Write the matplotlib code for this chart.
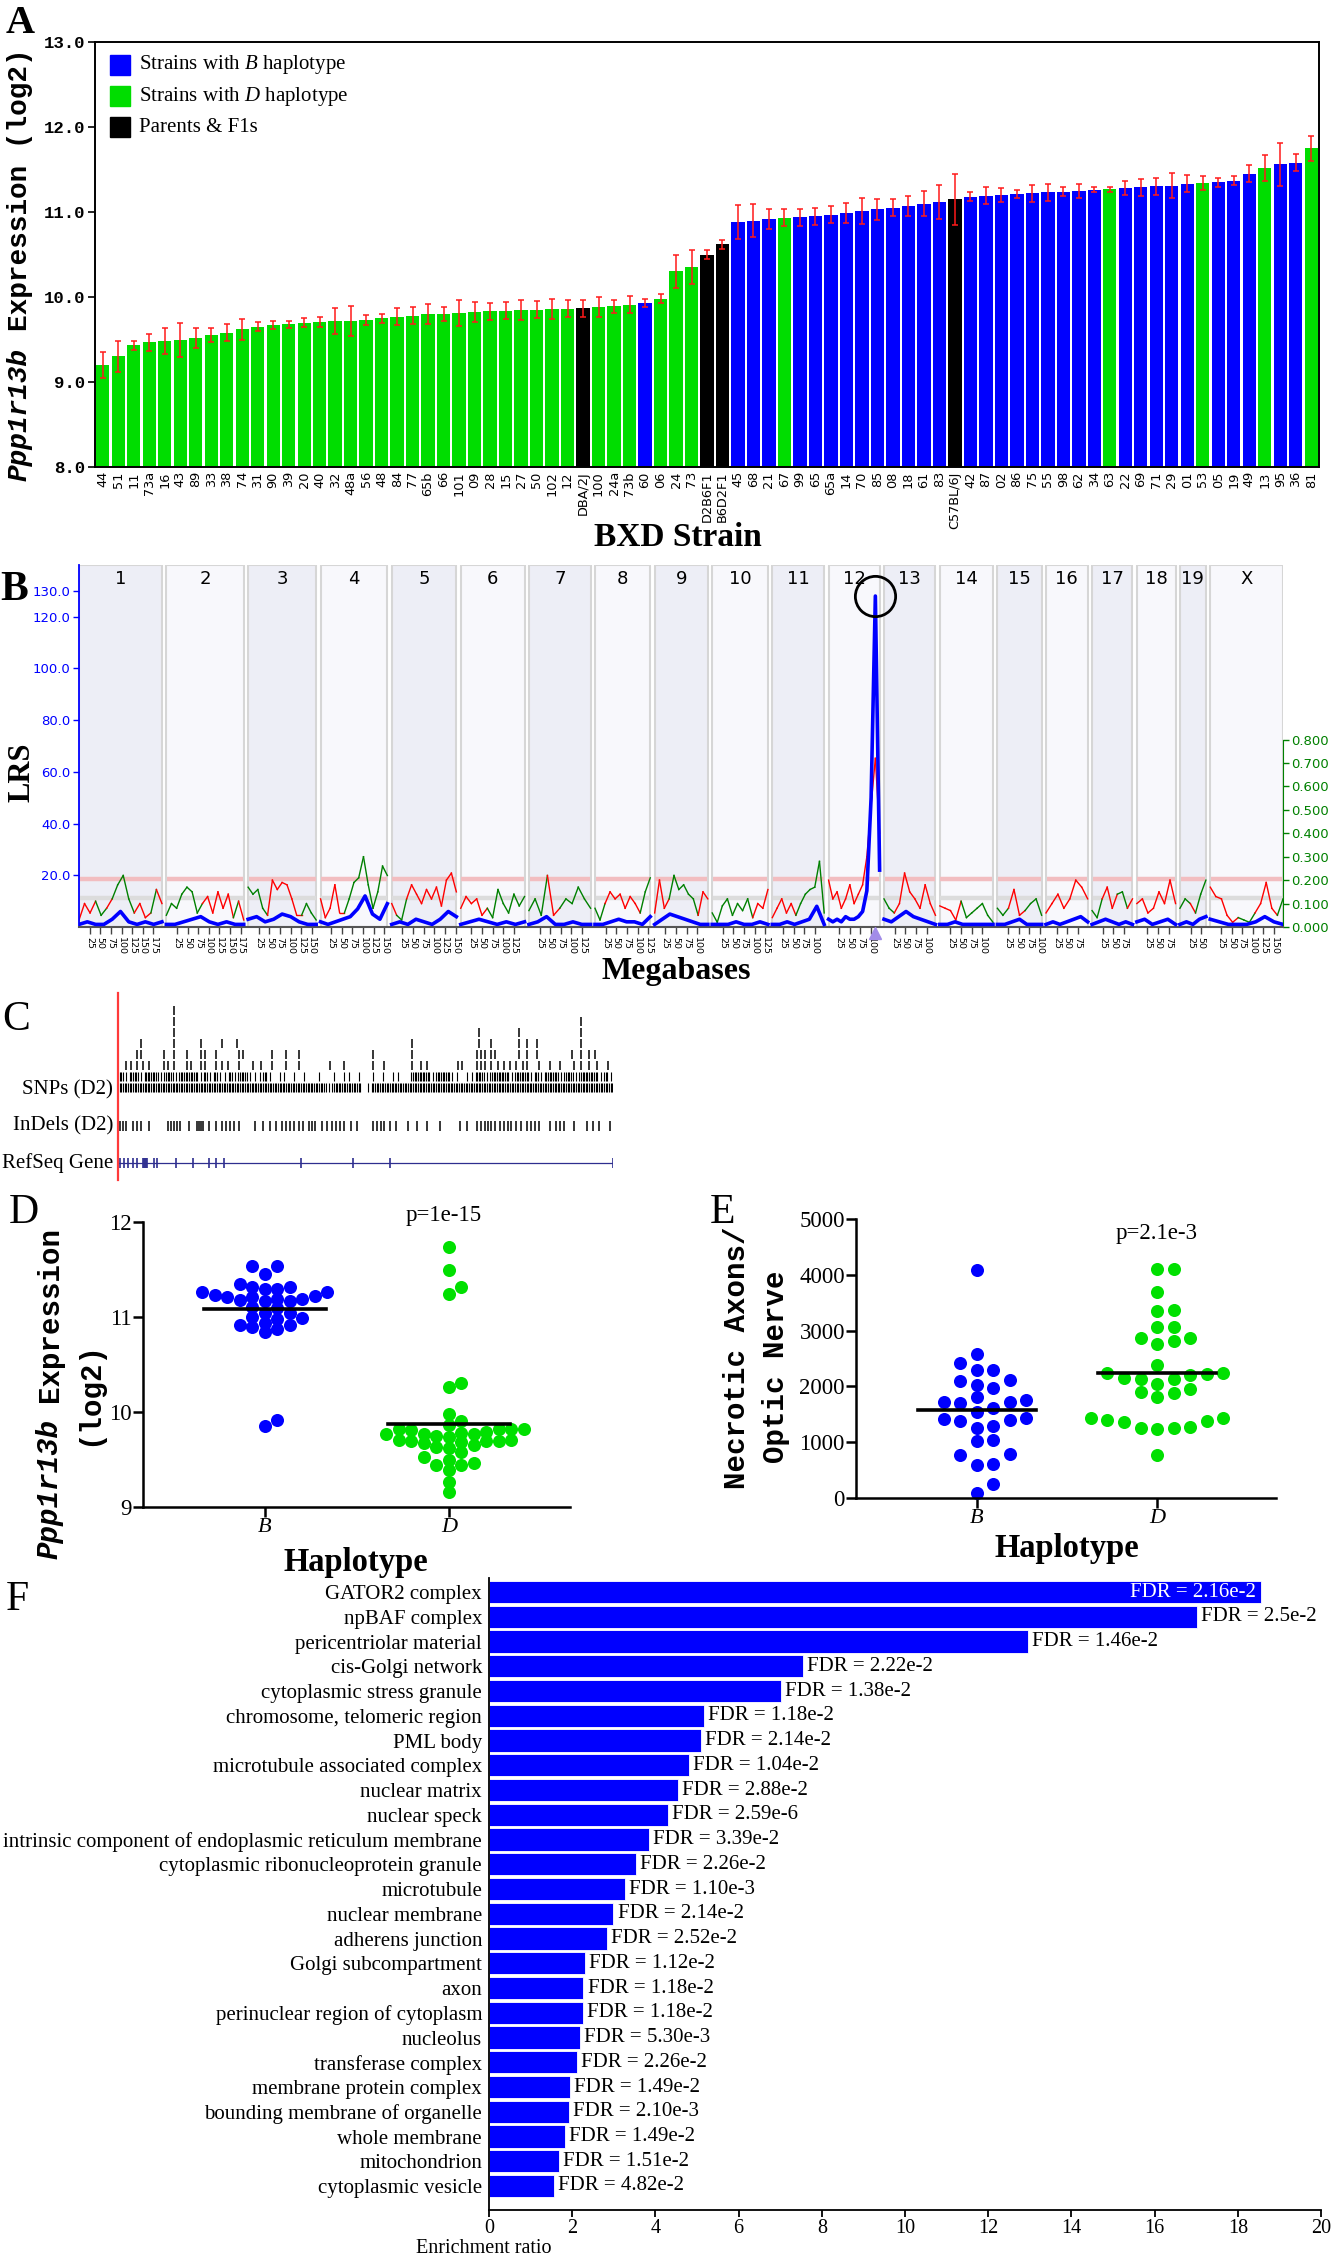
import numpy as np
import matplotlib.pyplot as plt
from matplotlib.patches import Rectangle

W, H = 1332, 2254
SERIF = 'Liberation Serif'
MONO = 'Liberation Mono'
SANS = 'DejaVu Sans'
plt.rcParams['font.family'] = SERIF
plt.rcParams['mathtext.fontset'] = 'custom'
plt.rcParams['mathtext.rm'] = SERIF
plt.rcParams['mathtext.it'] = SERIF + ':italic'

BLUE = '#0000FF'
GREEN = '#00DD00'

# ---------------- A : Ppp1r13b expression per BXD strain
strains = ['44', '51', '11', '73a', '16', '43', '89', '33', '38', '74',
           '31', '90', '39', '20', '40', '32', '48a', '56', '48', '84',
           '77', '65b', '66', '101', '09', '28', '15', '27', '50', '102',
           '12', 'DBA/2J', '100', '24a', '73b', '60', '06', '24', '73', 'D2B6F1',
           'B6D2F1', '45', '68', '21', '67', '99', '65', '65a', '14', '70',
           '85', '08', '18', '61', '83', 'C57BL/6J', '42', '87', '02', '86',
           '75', '55', '98', '62', '34', '63', '22', '69', '71', '29',
           '01', '53', '05', '19', '49', '13', '95', '36', '81']
# D = D haplotype, B = B haplotype, P = parents & F1s
haplo = ('DDDDDDDDDD' 'DDDDDDDDDD' 'DDDDDDDDDD'
         'DPDDDBDDDP' 'PBBBDBBBBB' 'BBBBBPBBBB'
         'BBBBBDBBBB' 'BDBBBDBBD')
expr = [9.20, 9.30, 9.43, 9.47, 9.48, 9.49, 9.52, 9.55, 9.58, 9.62,
        9.65, 9.67, 9.68, 9.70, 9.71, 9.72, 9.72, 9.73, 9.75, 9.77,
        9.78, 9.80, 9.80, 9.81, 9.82, 9.83, 9.84, 9.85, 9.85, 9.86,
        9.86, 9.87, 9.88, 9.89, 9.91, 9.93, 9.98, 10.30, 10.35, 10.50,
        10.62, 10.88, 10.90, 10.92, 10.93, 10.94, 10.95, 10.97, 10.99, 11.01,
        11.03, 11.05, 11.07, 11.10, 11.12, 11.15, 11.18, 11.19, 11.20, 11.21,
        11.22, 11.23, 11.24, 11.25, 11.26, 11.27, 11.28, 11.29, 11.30, 11.31,
        11.33, 11.34, 11.35, 11.37, 11.45, 11.52, 11.56, 11.58, 11.75]
expr_se = [0.15, 0.18, 0.05, 0.10, 0.15, 0.20, 0.12, 0.08, 0.10, 0.12,
           0.05, 0.05, 0.04, 0.05, 0.06, 0.15, 0.18, 0.06, 0.05, 0.10,
           0.10, 0.12, 0.08, 0.15, 0.12, 0.10, 0.10, 0.12, 0.10, 0.12,
           0.10, 0.10, 0.12, 0.08, 0.10, 0.05, 0.05, 0.20, 0.20, 0.05,
           0.05, 0.20, 0.20, 0.12, 0.10, 0.10, 0.10, 0.10, 0.12, 0.15,
           0.12, 0.10, 0.12, 0.15, 0.20, 0.30, 0.05, 0.10, 0.08, 0.05,
           0.10, 0.10, 0.05, 0.08, 0.03, 0.03, 0.08, 0.10, 0.10, 0.15,
           0.10, 0.08, 0.05, 0.05, 0.10, 0.15, 0.25, 0.10, 0.15]

# ---------------- B : genome wide LRS scan
chroms = ['1', '2', '3', '4', '5', '6', '7', '8', '9', '10',
          '11', '12', '13', '14', '15', '16', '17', '18', '19', 'X']
chrom_len = [195, 182, 160, 157, 152, 150, 145, 130, 125, 131,
             122, 120, 121, 125, 104, 98, 95, 91, 61, 171]
chrom_gap = 10.3
lrs = [[1, 2, 1, 1, 3, 6, 2, 1, 2, 1, 2],
       [1, 1, 2, 3, 4, 2, 1, 2, 1, 1],
       [3, 4, 2, 3, 5, 4, 2, 1, 1],
       [2, 1, 2, 3, 4, 7, 12, 5, 3, 9],
       [1, 2, 1, 3, 2, 1, 3, 6, 4],
       [1, 2, 3, 2, 1, 2, 1, 2],
       [1, 2, 4, 1, 1, 2, 1, 1],
       [1, 1, 2, 3, 2, 2, 1, 4],
       [1, 3, 5, 4, 3, 2, 1, 1],
       [1, 1, 1, 2, 1, 1, 2, 1],
       [1, 1, 2, 1, 2, 3, 8, 1],
       [3, 2, 3, 2, 4, 3, 3, 4, 6, 14, 50, 128, 22],
       [3, 2, 4, 6, 4, 3, 2, 1],
       [1, 1, 2, 1, 1, 1, 1, 1],
       [1, 1, 2, 3, 1, 1, 1],
       [1, 2, 1, 2, 3, 4, 2],
       [1, 2, 3, 2, 1, 2, 1],
       [2, 3, 1, 2, 3, 1],
       [1, 2, 1, 3, 4],
       [3, 2, 1, 1, 1, 2, 4, 2, 1]]
# additive effect, >0 D allele raises (red), <0 B allele raises (green)
additive = [[0.03, 0.10, 0.06, -0.11, -0.05, 0.08, -0.12, -0.18, -0.22, -0.12, 0.06, 0.10, 0.04, -0.06, 0.16, 0.10],
            [-0.05, -0.10, -0.08, -0.14, -0.17, -0.15, -0.06, 0.10, 0.13, 0.06, 0.15, 0.08, 0.14, -0.04, 0.11, -0.03],
            [-0.17, -0.14, -0.16, -0.08, 0.05, 0.20, 0.16, 0.19, 0.18, 0.12, 0.05, -0.05, -0.10, -0.06, -0.03],
            [0.12, 0.04, 0.08, 0.18, 0.06, -0.06, -0.12, -0.19, -0.21, -0.30, -0.18, -0.08, -0.15, -0.26, -0.22],
            [0.10, -0.05, -0.03, 0.12, 0.18, 0.14, 0.10, 0.16, 0.12, 0.17, 0.09, 0.20, 0.23, 0.15],
            [0.08, 0.13, 0.10, 0.12, 0.05, -0.08, -0.04, -0.16, -0.10, -0.06, -0.14, -0.09, -0.13],
            [-0.07, -0.12, -0.05, 0.22, 0.05, -0.08, -0.12, -0.10, -0.17, -0.12, -0.08],
            [-0.08, -0.03, 0.10, 0.15, 0.12, 0.14, 0.08, 0.13, 0.10, -0.06, -0.15, -0.21],
            [0.06, 0.20, 0.08, -0.12, -0.22, -0.16, -0.18, -0.14, -0.12, 0.05, 0.15, 0.12],
            [-0.06, -0.02, -0.09, -0.12, -0.05, -0.10, -0.07, -0.12, 0.04, 0.10, 0.08, 0.16],
            [0.04, 0.08, 0.12, 0.06, 0.10, -0.05, -0.10, -0.14, -0.16, -0.17, -0.28, -0.06],
            [0.20, 0.12, 0.15, 0.08, 0.12, 0.18, 0.10, 0.14, 0.18, 0.30, 0.52, 0.72, 0.40],
            [-0.12, -0.08, 0.06, 0.10, 0.23, 0.15, 0.12, 0.08, 0.18, 0.10, 0.05],
            [0.09, 0.08, 0.07, 0.03, -0.11, -0.04, -0.06, -0.08, -0.10, -0.05, -0.02],
            [-0.08, -0.05, 0.08, 0.16, 0.05, -0.07, -0.10, -0.12, -0.05],
            [0.06, 0.10, 0.14, 0.08, 0.12, 0.20, 0.17, 0.12],
            [-0.07, -0.04, 0.12, 0.17, 0.08, -0.14, -0.15, 0.08, 0.12],
            [0.10, 0.12, 0.06, 0.08, 0.15, 0.10, 0.20, 0.10],
            [-0.08, -0.12, 0.10, -0.06, -0.14, -0.20],
            [0.17, 0.13, 0.12, 0.05, 0.02, -0.04, -0.03, -0.02, 0.06, 0.10, 0.19, 0.08, -0.05, -0.12]]
lrs_suggestive = 11.3
lrs_significant = 18.5

# ---------------- C : variants in the Ppp1r13b region (track units 0-1000)
# '#' = dense block of SNPs, '|' = single SNP
snp_dense = ['#' * 42 + '|' + '#' * 6 + ' |' + '#' * 49,
             '#|##|###|##|####' '|#|#||#|##|||#' '| || | |  | ' ' | || |  '
             '| | ||  ' '####|###|' '| ||' '##|####|###|#|###|##|####|#|']
snp_sparse = [[15, 24, 36, 49, 61, 91, 99, 112, 137, 145, 166, 175, 196, 208, 221, 242, 271, 288,
               309, 338, 364, 427, 456, 515, 536, 594, 611, 624, 687, 695, 725, 733, 741, 754, 767,
               779, 792, 804, 817, 825, 851, 872, 893, 922, 935, 951, 968, 989],
              [36, 45, 91, 112, 137, 166, 175, 196, 242, 250, 309, 338, 364, 515, 594, 725, 733,
               741, 754, 762, 809, 825, 846, 918, 935, 951, 964],
              [45, 112, 166, 208, 238, 594, 729, 754, 809, 825, 846, 935],
              [112, 729, 809, 935],
              [112, 935],
              [112]]
indels = [3, 9, 15, 28, 36, 45, 61, 99, 105, 112, 118, 124, 141, 158, 162, 166, 170, 183, 196,
          208, 217, 225, 233, 242, 275, 292, 305, 317, 330, 338, 347, 355, 364, 372, 385, 390,
          397, 410, 422, 431, 439, 448, 456, 469, 481, 515, 523, 530, 536, 548, 561, 586, 603,
          624, 649, 691, 704, 725, 733, 740, 746, 754, 762, 771, 779, 788, 793, 804, 813, 825,
          834, 842, 851, 872, 884, 893, 901, 922, 947, 960, 972, 993]
refseq_exons = [3, 11, 19, 28, 36, 49, 51, 53, 55, 57, 70, 76, 116, 149, 183, 196, 212, 368, 473, 548, 1000]

# ---------------- D, E : by haplotype at the Ppp1r13b locus
expr_B = [11.32, 11.21, 11.26, 11.17, 11.26, 11.17, 11.19, 11.32, 11.21, 11.30,
          11.19, 11.54, 11.54, 11.45, 11.29, 11.18, 11.35, 11.23, 11.22, 11.11,
          11.09, 11.04, 11.04, 11.00, 10.98, 10.99, 10.92, 10.94, 10.90, 10.84,
          10.87, 10.92, 9.85, 9.92]
expr_D = [11.74, 11.50, 11.32, 11.24, 10.31, 10.26, 9.98, 9.91, 9.86,
          9.82, 9.82, 9.82, 9.77, 9.82, 9.77, 9.78, 9.77, 9.79, 9.81,
          9.71, 9.74, 9.68, 9.70, 9.67, 9.70, 9.69, 9.75, 9.71,
          9.62, 9.58, 9.63, 9.65,
          9.50, 9.53, 9.44, 9.44, 9.46, 9.39,
          9.26, 9.16]
necro_B = [4090, 2581, 2413, 2293, 2293, 2102, 2114, 1964, 2030, 1814,
           1754, 1724, 1695, 1724, 1605, 1545, 1437, 1383, 1413, 1395,
           1263, 1293, 1024, 1048, 766, 796, 599, 617, 257, 90]
necro_D = [4102, 4102, 3700, 3371, 3353, 3072, 3072, 2874, 2874, 2760,
           2820, 2383, 2216, 2156, 2126, 2204, 2132, 2246, 2246, 2042,
           1886, 1904, 1952, 1802, 1365, 1377, 1425, 1437, 1395, 1228,
           1275, 1263, 1263, 766]

# ---------------- F : GO cellular component enrichment
go_terms = ['GATOR2 complex', 'npBAF complex', 'pericentriolar material', 'cis-Golgi network',
            'cytoplasmic stress granule', 'chromosome, telomeric region', 'PML body',
            'microtubule associated complex', 'nuclear matrix', 'nuclear speck',
            'intrinsic component of endoplasmic reticulum membrane',
            'cytoplasmic ribonucleoprotein granule', 'microtubule', 'nuclear membrane',
            'adherens junction', 'Golgi subcompartment', 'axon', 'perinuclear region of cytoplasm',
            'nucleolus', 'transferase complex', 'membrane protein complex',
            'bounding membrane of organelle', 'whole membrane', 'mitochondrion', 'cytoplasmic vesicle']
enrich = [18.56, 17.02, 12.96, 7.55, 7.02, 5.17, 5.10, 4.81, 4.55, 4.30, 3.84, 3.54, 3.26,
          2.99, 2.84, 2.30, 2.27, 2.25, 2.19, 2.12, 1.95, 1.93, 1.83, 1.69, 1.57]
fdr = ['2.16e-2', '2.5e-2', '1.46e-2', '2.22e-2', '1.38e-2', '1.18e-2', '2.14e-2', '1.04e-2',
       '2.88e-2', '2.59e-6', '3.39e-2', '2.26e-2', '1.10e-3', '2.14e-2', '2.52e-2', '1.12e-2',
       '1.18e-2', '1.18e-2', '5.30e-3', '2.26e-2', '1.49e-2', '2.10e-3', '1.49e-2', '1.51e-2',
       '4.82e-2']


fig = plt.figure(figsize=(W / 100, H / 100), dpi=100)


def px_axes(l, t, r, b):
    # axes placed by pixel box (left, top, right, bottom)
    return fig.add_axes([l / W, 1 - b / H, (r - l) / W, (b - t) / H])


texts = []   # (x, y, s, kwargs) in figure pixels, drawn on an overlay at the end


def mono_label(x, yc, parts, fs):
    # rotated monospace label, parts = [(text, italic)], 0.6 em per char
    cw = 0.6 * fs * 100 / 72
    y = yc + sum(len(t) for t, _ in parts) * cw / 2
    for t, it in parts:
        texts.append((x, y, t, dict(rotation=90, rotation_mode='anchor', ha='left', va='center',
                                     family=MONO, fontweight='bold', fontsize=fs,
                                     fontstyle='italic' if it else 'normal')))
        y -= len(t) * cw


def swarm(vals, ypx, xpx, step, ydist):
    # simple beeswarm: offsets in pixels turned back into x units
    vals = np.asarray(vals, float)
    placed = []
    out = np.zeros(len(vals))
    for i in np.argsort(vals):
        y = vals[i] * ypx
        k = 0
        pick = None
        while pick is None:
            for c in ([0] if k == 0 else [k, -k]):
                x = c * step
                if all(abs(x - px) >= step * 0.95 or abs(y - py) >= ydist for px, py in placed):
                    pick = x
                    break
            k += 1
        placed.append((pick, y))
        out[i] = pick
    return out / xpx


# ============ panel A
axA = px_axes(95, 42, 1319, 467)
xa = np.arange(len(strains))
cmap = {'B': BLUE, 'D': GREEN, 'P': 'black'}
axA.bar(xa, expr, width=0.86, color=[cmap[h] for h in haplo], zorder=2)
axA.errorbar(xa, expr, yerr=expr_se, fmt='none', ecolor='#FF1A1A', elinewidth=1.1,
             capsize=2.2, capthick=1.1, zorder=3)
axA.set_xlim(-0.5, len(strains) - 0.5)
axA.set_ylim(8, 13)
axA.set_yticks([8, 9, 10, 11, 12, 13])
axA.set_yticklabels(['8.0', '9.0', '10.0', '11.0', '12.0', '13.0'], family=MONO,
                    fontweight='bold', fontsize=12.5)
axA.set_xticks(xa)
axA.set_xticklabels(strains, rotation=90, family=SANS, fontsize=9.3)
axA.tick_params(axis='x', length=0, pad=3)
axA.tick_params(axis='y', length=5, width=1.2, pad=2)
for s in axA.spines.values():
    s.set_linewidth(1.4)

for i, (lab, col) in enumerate([('Strains with $\\mathit{B}$ haplotype', BLUE),
                                ('Strains with $\\mathit{D}$ haplotype', GREEN),
                                ('Parents & F1s', 'black')]):
    yc = 65 + 31 * i
    texts.append((110, yc, Rectangle, dict(color=col)))
    texts.append((139, yc, lab, dict(ha='left', va='center', fontsize=15, family=SERIF)))
mono_label(20, 264, [('Ppp1r13b', True), (' ', False), ('Expression (log2)', False)], 20)
texts.append((678, 538, 'BXD Strain', dict(ha='center', va='center', fontsize=24, fontweight='bold')))
texts.append((6, 33, 'A', dict(ha='left', va='baseline', fontsize=29, fontweight='bold')))

# ============ panel B
axB = px_axes(79, 565, 1283, 927)
axB2 = axB.twinx()
axB2.set_zorder(1)
axB.set_zorder(2)
axB.patch.set_visible(False)
starts = np.concatenate([[0], np.cumsum(np.array(chrom_len) + chrom_gap)[:-1]])
total = starts[-1] + chrom_len[-1]
axB.set_xlim(0, total)
axB.set_ylim(0, 140)
add_top = 140 / 90.6
axB2.set_ylim(0, add_top)

ticks, tlabels = [], []
for c, (name, s, L) in enumerate(zip(chroms, starts, chrom_len)):
    fc = '#EDEEF6' if c % 2 == 0 else '#F8F8FC'
    axB2.add_patch(Rectangle((s, 0), L, 1, transform=axB2.get_xaxis_transform(),
                             fc=fc, ec='#D6D6D6', lw=1.5, zorder=0))
    for lv, col in [(lrs_significant, '#F2BDC0'), (lrs_suggestive, '#DCDCDC')]:
        axB2.plot([s + 1.5, s + L - 1.5], [lv, lv], color=col, lw=3.2,
                  transform=axB.transData, zorder=1, solid_capstyle='butt')
    a = np.array(additive[c])
    pa = s + np.linspace(0, L, len(a))
    for j in range(len(a) - 1):
        axB2.plot(pa[j:j + 2], np.abs(a[j:j + 2]), color='#FF0000' if a[j] >= 0 else '#008000',
                  lw=1.0, zorder=2)
    v = np.array(lrs[c])
    pv = s + np.linspace(0, L, len(v))
    axB.plot(pv, v, color=BLUE, lw=2.6, zorder=3)
    if name == '12':
        k = int(np.argmax(v))
        axB.plot(pv[k], v[k], 'o', ms=29, mfc='none', mec='black', mew=2, zorder=4)
        axB.plot(pv[k], -2.4, '^', color='#A28CE8', ms=9, clip_on=False, zorder=4)
    axB.text(s + L / 2, 0.962, name, transform=axB.get_xaxis_transform(), ha='center',
             va='center', family=SANS, fontsize=13)
    for m in range(25, L, 25):
        ticks.append(s + m)
        tlabels.append(str(m))

axB.set_xticks(ticks)
axB.set_xticklabels(tlabels, rotation=-90, family=SANS, fontsize=6.8)
axB.tick_params(axis='x', length=5, width=1, pad=2, color='#444444')
axB.set_yticks([20, 40, 60, 80, 100, 120, 130])
axB.set_yticklabels(['20.0', '40.0', '60.0', '80.0', '100.0', '120.0', '130.0'],
                    family=SANS, fontsize=9.5, color=BLUE)
axB.tick_params(axis='y', colors=BLUE, length=4, width=1, pad=2)
axB.spines['left'].set_color(BLUE)
axB.spines['left'].set_linewidth(1.3)
axB.spines['bottom'].set_color('#555555')
axB.spines['bottom'].set_linewidth(1.5)
axB.spines['top'].set_visible(False)
axB.spines['right'].set_visible(False)
axB2.set_yticks(np.round(np.arange(0, 0.81, 0.1), 1))
axB2.set_yticklabels(['%.3f' % t for t in np.arange(0, 0.81, 0.1)], family=SANS,
                     fontsize=9.5, color='#008000')
axB2.tick_params(axis='y', colors='#008000', length=4, width=1, pad=2)
axB2.spines['right'].set_color('#008000')
axB2.spines['right'].set_bounds(0, 0.8)
for k in ['left', 'top', 'bottom']:
    axB2.spines[k].set_visible(False)

texts.append((22, 772, 'LRS', dict(rotation=90, ha='center', va='center', fontsize=22,
                                   fontweight='bold')))
texts.append((676, 971, 'Megabases', dict(ha='center', va='center', fontsize=23,
                                          fontweight='bold')))
texts.append((0, 600, 'B', dict(ha='left', va='baseline', fontsize=30, fontweight='bold')))

# ============ panel C
axC = px_axes(119, 993, 613, 1182)
axC.set_xlim(0, 1000)
axC.set_ylim(0, 189)
axC.axis('off')
for r, row in enumerate(snp_dense):
    cw = 1000 / len(row)
    xs = []
    for i, ch in enumerate(row):
        if ch == '#':
            xs += [cw * (i + (q + 0.5) / 3) for q in range(3)]
        elif ch == '|':
            xs.append(cw * (i + 0.5))
    yc = 95 + 11 * r
    axC.vlines(xs, yc - 4.5, yc + 4.5, color='black', lw=0.8)
for r, pos in enumerate(snp_sparse, start=2):
    yc = 95 + 11 * r
    axC.vlines(pos, yc - 4.5, yc + 4.5, color='black', lw=1.1)
axC.vlines(indels, 56 - 5, 56 + 5, color='black', lw=1.1)
axC.plot([0, 1000], [19, 19], color='#2E2E8F', lw=0.9)
axC.vlines(refseq_exons, 19 - 5, 19 + 5, color='#2E2E8F', lw=1.2)
axC.plot([-2, -2], [2, 189], color='#FF3A3A', lw=1.6, clip_on=False)
for y, lab in [(92, 'SNPs (D2)'), (56, 'InDels (D2)'), (19, 'RefSeq Gene')]:
    axC.text(-12, y, lab, ha='right', va='center', fontsize=15, family=SERIF, clip_on=False)
texts.append((2, 1030, 'C', dict(ha='left', va='baseline', fontsize=30)))

# ============ panels D and E
def dot_panel(box, xlim, ylim, yt, ytl, gB, gD, ypx, xpx, step, ydist):
    ax = px_axes(*box)
    for g, (vals, col) in enumerate([(gB, BLUE), (gD, '#00E000')]):
        xs = g + swarm(vals, ypx, xpx, step, ydist)
        ax.plot(xs, vals, 'o', color=col, ms=9.4, mew=0, clip_on=False, zorder=2)
        mu = np.mean(vals)
        ax.plot([g - 0.33, g + 0.33], [mu, mu], color='black', lw=2.6, zorder=3)
    ax.set_xlim(*xlim)
    ax.set_ylim(*ylim)
    ax.set_yticks(yt)
    ax.set_yticklabels(ytl, fontsize=16.5, family=SERIF)
    ax.set_xticks([0, 1])
    ax.set_xticklabels(['B', 'D'], fontsize=16, family=SERIF, fontstyle='italic')
    ax.tick_params(length=7, width=1.8, pad=1)
    for k in ['top', 'right']:
        ax.spines[k].set_visible(False)
    for k in ['left', 'bottom']:
        ax.spines[k].set_linewidth(1.8)
    return ax


dot_panel((143, 1222, 570, 1507), (-0.663, 1.658), (9, 12), [9, 10, 11, 12],
          ['9', '10', '11', '12'], expr_B, expr_D, 95.0, 184.0, 12.5, 9)
dot_panel((856, 1219, 1276, 1498), (-0.672, 1.661), (0, 5000), [0, 1000, 2000, 3000, 4000, 5000],
          ['0', '1000', '2000', '3000', '4000', '5000'], necro_B, necro_D, 279 / 5000, 180.0, 16.5,
          12)
texts.append((444, 1215, 'p=1e-15', dict(ha='center', va='center', fontsize=16.5)))
texts.append((1157, 1233, 'p=2.1e-3', dict(ha='center', va='center', fontsize=16.5)))
texts.append((356, 1563, 'Haplotype', dict(ha='center', va='center', fontsize=23.5, fontweight='bold')))
texts.append((1067, 1548, 'Haplotype', dict(ha='center', va='center', fontsize=23.5, fontweight='bold')))
mono_label(50, 1393, [('Ppp1r13b', True), (' ', False), ('Expression', False)], 21)
mono_label(89, 1393, [('(log2)', False)], 21)
mono_label(737, 1358, [('Necrotic Axons/', False)], 21)
mono_label(776, 1367, [('Optic Nerve', False)], 21)
texts.append((9, 1223, 'D', dict(ha='left', va='baseline', fontsize=30)))
texts.append((710, 1223, 'E', dict(ha='left', va='baseline', fontsize=30)))

# ============ panel F
axF = px_axes(489, 1578, 1321, 2210)
yf = np.arange(len(go_terms))
axF.barh(yf, enrich, height=0.9, color=BLUE, edgecolor='white', lw=0.6)
for i, (v, f) in enumerate(zip(enrich, fdr)):
    if i == 0:
        axF.text(v - 0.12, i, 'FDR = ' + f, ha='right', va='center', color='white',
                 fontsize=15, family=SERIF)
    else:
        axF.text(v + 0.1, i, 'FDR = ' + f, ha='left', va='center', fontsize=15, family=SERIF)
axF.set_ylim(len(go_terms) - 0.03, -0.57)
axF.set_xlim(0, 20)
axF.set_yticks(yf)
axF.set_yticklabels(go_terms, fontsize=15, family=SERIF)
axF.set_xticks(np.arange(0, 21, 2))
axF.tick_params(axis='y', length=0, pad=5)
axF.tick_params(axis='x', length=5, width=1.3, labelsize=14.5, pad=1.5)
for k in ['top', 'right']:
    axF.spines[k].set_visible(False)
for k in ['left', 'bottom']:
    axF.spines[k].set_linewidth(1.3)
texts.append((484, 2253, 'Enrichment ratio', dict(ha='center', va='baseline', fontsize=14.5)))
texts.append((6, 1610, 'F', dict(ha='left', va='baseline', fontsize=30)))

# ============ overlay for labels in figure pixels
ov = fig.add_axes([0, 0, 1, 1])
ov.set_xlim(0, W)
ov.set_ylim(H, 0)
ov.axis('off')
ov.patch.set_visible(False)
for x, y, s, kw in texts:
    if s is Rectangle:
        ov.add_patch(Rectangle((x, y - 10), 20, 20, **kw))
    else:
        ov.text(x, y, s, **kw)

fig.savefig('out.png', dpi=100)
